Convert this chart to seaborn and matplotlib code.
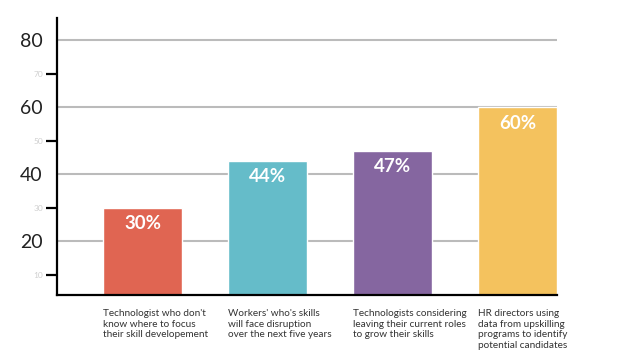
import matplotlib
matplotlib.use("Agg")
import matplotlib.pyplot as plt
import seaborn as sns
import pandas as pd
from matplotlib.ticker import FixedLocator

categories = [
    "Technologist who don't\nknow where to focus\ntheir skill developement",
    "Workers' who's skills\nwill face disruption\nover the next five years",
    "Technologists considering\nleaving their current roles\nto grow their skills",
    "HR directors using\ndata from upskilling\nprograms to identify\npotential candidates",
]
values = [30, 44, 47, 60]
value_labels = ["30%", "44%", "47%", "60%"]
colors = ["#E06552", "#65BCC9", "#8566A0", "#F4C25E"]
major_ticks = [20, 40, 60, 80]
minor_ticks = [10, 30, 50, 70]

sns.set_style("white")
plt.rcParams["font.family"] = ["Lato", "DejaVu Sans"]

df = pd.DataFrame({"cat": categories, "val": values})

fig = plt.figure(figsize=(6.18, 3.64), dpi=100)
ax = fig.add_axes([57 / 618, 1 - 295 / 364, 500 / 618, 277 / 364])

bar_w = 0.632
sns.barplot(data=df, x="cat", y="val", hue="cat", palette=colors, legend=False,
            width=bar_w, saturation=1, ax=ax, zorder=3)

ax.set_xlim(-0.684, 3.316)
ax.set_ylim(3.9, 86.6)

ax.yaxis.set_major_locator(FixedLocator(major_ticks))
ax.yaxis.set_minor_locator(FixedLocator(minor_ticks))
ax.set_yticklabels([str(t) for t in major_ticks], fontsize=14, color="#222222")
ax.set_yticklabels([str(t) for t in minor_ticks], minor=True, fontsize=6, color="#D0D0D0")
ax.tick_params(axis="y", which="major", length=0, pad=10.5)
ax.tick_params(axis="y", which="minor", length=8, width=1.6, color="black", pad=2, left=True)
ax.grid(axis="y", which="major", color="#BBBBBB", linewidth=1.5, zorder=0)
ax.grid(axis="x", visible=False)

ax.set_xticks([i - bar_w / 2 for i in range(len(categories))])
ax.set_xticklabels(categories, ha="left", va="top", fontsize=7.2, color="#333333",
                   linespacing=1.25)
ax.tick_params(axis="x", length=0, pad=10)

ax.set_xlabel("")
ax.set_ylabel("")

for s in ["top", "right"]:
    ax.spines[s].set_visible(False)
for s in ["left", "bottom"]:
    ax.spines[s].set_color("black")
    ax.spines[s].set_linewidth(1.6)
    ax.spines[s].set_zorder(4)

for i, (v, lab) in enumerate(zip(values, value_labels)):
    ax.annotate(lab, xy=(i, v), xytext=(0, -11.5), textcoords="offset points",
                ha="center", va="center", color="white", fontsize=13.5,
                fontweight="bold", zorder=5)

fig.savefig("out.png", dpi=100)
